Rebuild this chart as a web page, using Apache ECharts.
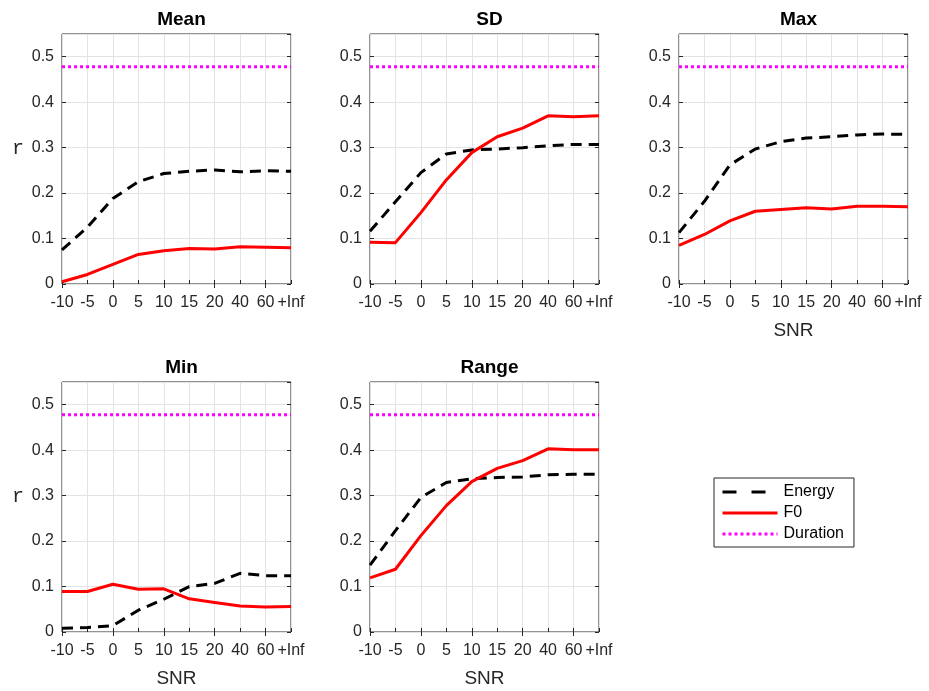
<!DOCTYPE html>
<html>
<head>
<meta charset="utf-8">
<script src="https://cdn.jsdelivr.net/npm/echarts@6/dist/echarts.min.js"></script>
<style>
  html, body { margin: 0; padding: 0; background: #fff; }
  #main { width: 929px; height: 691px; }
</style>
</head>
<body>
<div id="main"></div>
<script>
"use strict";

// SNR categories (x axis)
var snrLabels = ['-10', '-5', '0', '5', '10', '15', '20', '40', '60', '+Inf'];

// correlation r
var energyMean = [0.075, 0.125, 0.188, 0.225, 0.243, 0.248, 0.251, 0.247, 0.249, 0.248];
var f0Mean = [0.005, 0.021, 0.043, 0.065, 0.073, 0.078, 0.077, 0.082, 0.081, 0.080];

var energySD = [0.116, 0.181, 0.245, 0.286, 0.295, 0.297, 0.300, 0.304, 0.307, 0.307];
var f0SD = [0.092, 0.091, 0.157, 0.229, 0.289, 0.324, 0.343, 0.370, 0.368, 0.370];

var energyMax = [0.113, 0.182, 0.262, 0.297, 0.313, 0.321, 0.324, 0.328, 0.330, 0.329];
var f0Max = [0.085, 0.109, 0.139, 0.160, 0.164, 0.168, 0.165, 0.171, 0.171, 0.170];

var energyMin = [0.008, 0.010, 0.014, 0.048, 0.072, 0.100, 0.107, 0.129, 0.124, 0.124];
var f0Min = [0.089, 0.089, 0.105, 0.094, 0.095, 0.073, 0.065, 0.057, 0.055, 0.056];

var energyRange = [0.147, 0.223, 0.296, 0.329, 0.337, 0.340, 0.341, 0.346, 0.347, 0.347];
var f0Range = [0.119, 0.138, 0.212, 0.278, 0.331, 0.360, 0.377, 0.403, 0.401, 0.401];

var durationR = [0.478, 0.478, 0.478, 0.478, 0.478, 0.478, 0.478, 0.478, 0.478, 0.478];

var panels = [
    { title: 'Mean',  energy: energyMean,  f0: f0Mean,  left: 62,  top: 34,  yName: true,  xName: false },
    { title: 'SD',    energy: energySD,    f0: f0SD,    left: 370, top: 34,  yName: false, xName: false },
    { title: 'Max',   energy: energyMax,   f0: f0Max,   left: 679, top: 34,  yName: false, xName: true },
    { title: 'Min',   energy: energyMin,   f0: f0Min,   left: 62,  top: 382, yName: true,  xName: true },
    { title: 'Range', energy: energyRange, f0: f0Range, left: 370, top: 382, yName: false, xName: true }
];

var txtColor = '#262626';
var font = '"Liberation Sans", Arial, sans-serif';

var titles = [], grids = [], xAxes = [], yAxes = [], series = [];

panels.forEach(function (p, i) {
    grids.push({
        left: p.left, top: p.top, width: 229, height: 250,
        show: true, borderColor: txtColor, borderWidth: 1, backgroundColor: '#fff'
    });
    titles.push({
        text: p.title, left: p.left + 114.5, top: p.top - 29, textAlign: 'center',
        textStyle: { fontFamily: font, fontSize: 19, fontWeight: 'bold', color: '#000' }
    });
    // bottom x axis
    xAxes.push({
        type: 'category', gridIndex: i, data: snrLabels, boundaryGap: false,
        name: p.xName ? 'SNR' : '', nameLocation: 'middle', nameGap: 37,
        nameTextStyle: { fontFamily: font, fontSize: 19, color: txtColor },
        axisLine: { show: false },
        axisTick: { show: true, inside: true, length: 4, lineStyle: { color: txtColor } },
        axisLabel: { interval: 0, margin: 11, fontFamily: font, fontSize: 16, color: txtColor },
        splitLine: { show: true, lineStyle: { color: '#e3e3e3', width: 1 } }
    });
    // mirrored top axis (ticks only)
    xAxes.push({
        type: 'category', gridIndex: i, data: snrLabels, boundaryGap: false, position: 'top',
        axisLine: { show: false },
        axisTick: { show: true, inside: true, length: 4, lineStyle: { color: txtColor } },
        axisLabel: { show: false }, splitLine: { show: false }
    });
    yAxes.push({
        type: 'value', gridIndex: i, min: 0, max: 0.55, interval: 0.1,
        name: p.yName ? 'r' : '', nameLocation: 'middle', nameRotate: 0, nameGap: 38,
        nameTextStyle: {
            fontFamily: '"Liberation Mono", "DejaVu Sans Mono", monospace', fontSize: 20,
            color: txtColor, verticalAlign: 'bottom'
        },
        axisLine: { show: false },
        axisTick: { show: true, inside: true, length: 4, lineStyle: { color: txtColor } },
        axisLabel: { showMaxLabel: false, margin: 8, fontFamily: font, fontSize: 16, color: txtColor },
        splitLine: { show: true, lineStyle: { color: '#e3e3e3', width: 1 } }
    });
    yAxes.push({
        type: 'value', gridIndex: i, min: 0, max: 0.55, interval: 0.1, position: 'right',
        axisLine: { show: false },
        axisTick: { show: true, inside: true, length: 4, lineStyle: { color: txtColor } },
        axisLabel: { show: false }, splitLine: { show: false }
    });
    var xi = i * 2, yi = i * 2;
    series.push({
        name: 'Energy', type: 'line', xAxisIndex: xi, yAxisIndex: yi, data: p.energy,
        symbol: 'none', silent: true, z: 3,
        itemStyle: { color: '#000' },
        lineStyle: { color: '#000', width: 3, type: [11, 7] }
    });
    series.push({
        name: 'F0', type: 'line', xAxisIndex: xi, yAxisIndex: yi, data: p.f0,
        symbol: 'none', silent: true, z: 4,
        itemStyle: { color: '#ff0000' },
        lineStyle: { color: '#ff0000', width: 3, type: 'solid' }
    });
    series.push({
        name: 'Duration', type: 'line', xAxisIndex: xi, yAxisIndex: yi, data: durationR,
        symbol: 'none', silent: true, z: 2,
        itemStyle: { color: '#ff00ff' },
        lineStyle: { color: '#ff00ff', width: 3, type: [3, 3] }
    });
});

var myChart = echarts.init(document.getElementById('main'), null, { renderer: 'canvas' });

var option = {
    animation: false,
    backgroundColor: '#fff',
    title: titles,
    grid: grids,
    xAxis: xAxes,
    yAxis: yAxes,
    legend: {
        data: [
            { name: 'Energy', lineStyle: { color: '#000', width: 3, type: [14, 15] } },
            { name: 'F0', lineStyle: { color: '#ff0000', width: 3, type: 'solid' } },
            { name: 'Duration', lineStyle: { color: '#ff00ff', width: 3, type: [3, 3] } }
        ],
        orient: 'vertical', left: 714, top: 478,
        padding: [6, 10, 5, 7], itemGap: 5, itemWidth: 55, itemHeight: 16,
        borderColor: '#262626', borderWidth: 1, backgroundColor: '#fff',
        selectedMode: false,
        itemStyle: { opacity: 0, borderWidth: 0 },
        lineStyle: { width: 3 },
        textStyle: { fontFamily: font, fontSize: 16, color: '#000', padding: [0, 0, 0, 1] }
    },
    series: series
};

myChart.setOption(option);
</script>
</body>
</html>
